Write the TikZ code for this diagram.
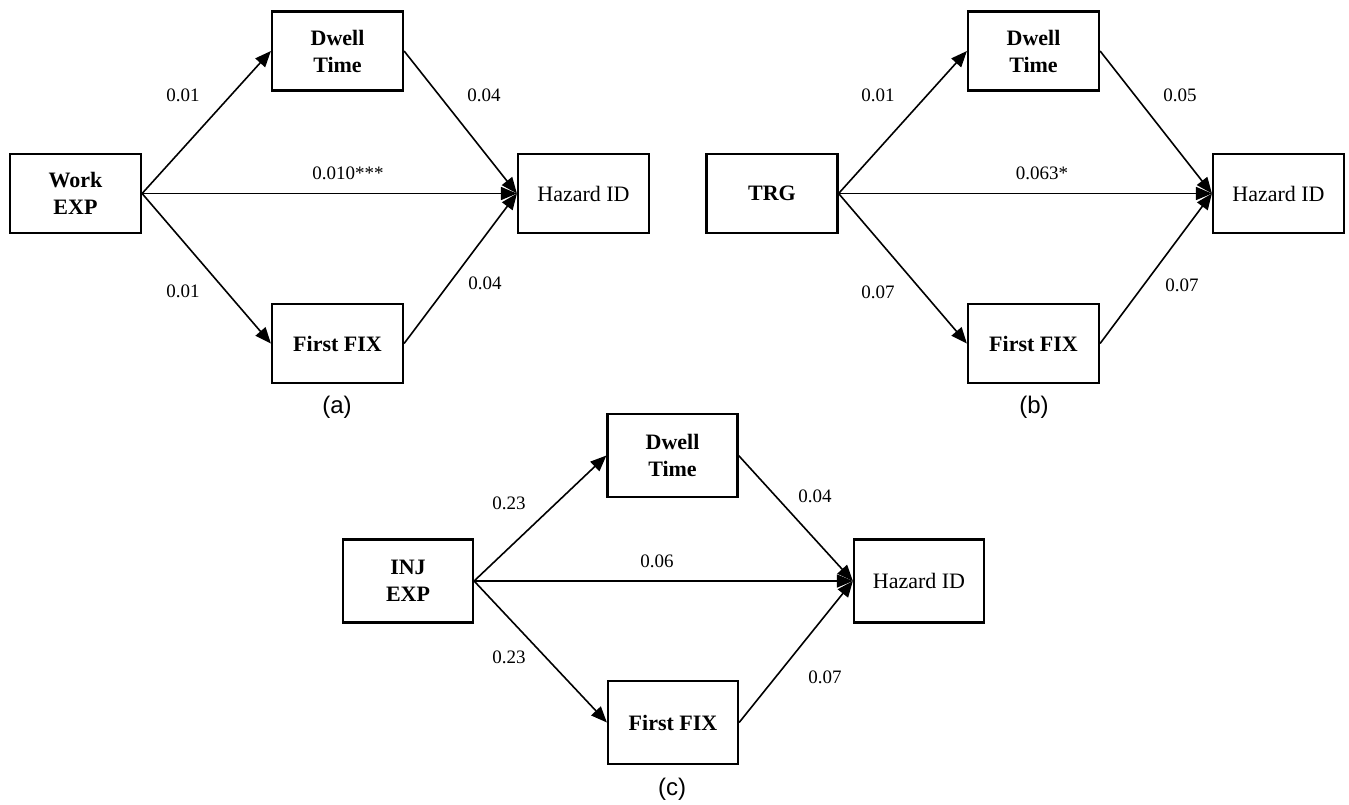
\documentclass[tikz,border=0pt]{standalone}
\usepackage{fontspec}
\setmainfont{Liberation Serif}
\newfontfamily\capfont{Liberation Sans}
\usetikzlibrary{
    arrows.meta,
    positioning
}
\tikzset{
    var/.style={draw, line width=1.1pt, minimum width=65.5pt, minimum height=39.5pt,
        align=center, inner sep=1pt, font=\fontsize{11}{13.5}\selectfont\bfseries},
    outc/.style={var, font=\fontsize{11}{13.5}\selectfont},
    tall/.style={minimum width=65pt, minimum height=41.5pt},
    link/.style={line width=0.8pt, -{Triangle[length=8pt,width=6.5pt]}},
    coef/.style={font=\fontsize{9.5}{11}\selectfont},
    panelcap/.style={font=\capfont\fontsize{12}{14}\selectfont}
}

\begin{document}
\begin{tikzpicture}[x=0.5pt, y=-0.5pt]
                        \useasboundingbox (0, 0) rectangle (1349, 804);
                        % (a)
                        \node[var] (wexp) at (75.5, 193.5) {Work\\EXP};
                        \node[var] (dta) at (337.5, 51) {Dwell\\Time};
                        \node[var] (ffa) at (337.5, 343.5) {First FIX};
                        \node[outc] (hza) at (583.5, 193.5) {Hazard ID};
                        \draw[link] (wexp.east) -- (dta.west);
                        \draw[link] (wexp.east) -- (ffa.west);
                        \draw[link] (wexp.east) -- (hza.west);
                        \draw[link] (dta.east) -- (hza.west);
                        \draw[link] (ffa.east) -- (hza.west);
                        \node[coef] (a1) at (183, 95) {0.01};
                        \node[coef] (a2) at (348, 173) {0.010***};
                        \node[coef] (a3) at (484, 95) {0.04};
                        \node[coef] (a4) at (183, 291) {0.01};
                        \node[coef] (a5) at (485, 283) {0.04};
                        \node[panelcap] (capa) at (337, 407) {(a)};
                        % (b)
                        \node[var] (trg) at (772, 193.5) {TRG};
                        \node[var] (dtb) at (1033.5, 51) {Dwell\\Time};
                        \node[var] (ffb) at (1033.5, 343.5) {First FIX};
                        \node[outc] (hzb) at (1278.5, 193.5) {Hazard ID};
                        \draw[link] (trg.east) -- (dtb.west);
                        \draw[link] (trg.east) -- (ffb.west);
                        \draw[link] (trg.east) -- (hzb.west);
                        \draw[link] (dtb.east) -- (hzb.west);
                        \draw[link] (ffb.east) -- (hzb.west);
                        \node[coef] (b1) at (878, 95) {0.01};
                        \node[coef] (b2) at (1042, 173) {0.063*};
                        \node[coef] (b3) at (1180, 95) {0.05};
                        \node[coef] (b4) at (878, 292) {0.07};
                        \node[coef] (b5) at (1182, 285) {0.07};
                        \node[panelcap] (capb) at (1034, 407) {(b)};
                        % (c)
                        \node[var, tall] (iexp) at (408, 581) {INJ\\EXP};
                        \node[var, tall] (dtc) at (672.5, 455.5) {Dwell\\Time};
                        \node[var, tall] (ffc) at (673, 722.5) {First FIX};
                        \node[outc, tall] (hzc) at (919, 581) {Hazard ID};
                        \draw[link] (iexp.east) -- (dtc.west);
                        \draw[link] (iexp.east) -- (ffc.west);
                        \draw[link] (iexp.east) -- (hzc.west);
                        \draw[link] (dtc.east) -- (hzc.west);
                        \draw[link] (ffc.east) -- (hzc.west);
                        \node[coef] (c1) at (509, 503) {0.23};
                        \node[coef] (c2) at (657, 561) {0.06};
                        \node[coef] (c3) at (815, 496) {0.04};
                        \node[coef] (c4) at (509, 657) {0.23};
                        \node[coef] (c5) at (825, 677) {0.07};
                        \node[panelcap] (capc) at (672, 789) {(c)};
\end{tikzpicture}
\end{document}
